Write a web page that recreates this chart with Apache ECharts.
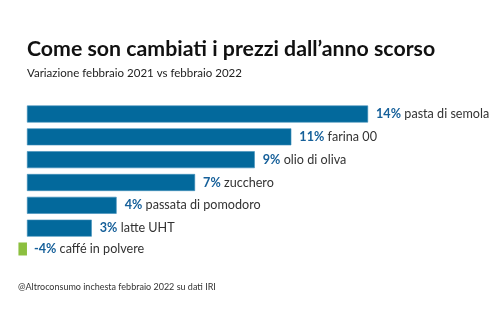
<!DOCTYPE html>
<html><head><meta charset="utf-8">
<script src="https://cdn.jsdelivr.net/npm/echarts@6/dist/echarts.min.js"></script>
<style>html,body{margin:0;padding:0;background:#fff}#c{width:500px;height:330px}</style>
</head><body><div id="c"></div>
<script>
const categories = ['pasta di semola','farina 00','olio di oliva','zucchero','passata di pomodoro','latte UHT','caffé in polvere'];
const percentLabels = ['14%','11%','9%','7%','4%','3%','-4%'];
// bar lengths as drawn in the picture (the negative bar is a short stub)
const barLengths = [14, 10.85, 9.35, 6.9, 3.68, 2.66, -0.35];
const positive = [true, true, true, true, true, true, false];

const chart = echarts.init(document.getElementById('c'));
const font = 'Lato, "Noto Sans", sans-serif';
const labelCfg = {
  show: true, position: 'right', distance: 8,
  formatter: p => '{v|' + percentLabels[p.dataIndex] + '} {n|' + categories[p.dataIndex] + '}',
  rich: {
    v: {fontFamily: font, fontSize: 12.6, fontWeight: 'bold', color: '#16609a'},
    n: {fontFamily: font, fontSize: 12.6, color: '#333'}
  }
};
chart.setOption({
  animation: false,
  title: [
    {text: 'Come son cambiati i prezzi dall\u2019anno scorso', left: 22, top: 34,
     textStyle: {fontFamily: font, fontSize: 21.3, fontWeight: 'bold', color: '#111'}},
    {text: 'Variazione febbraio 2021 vs febbraio 2022', left: 22, top: 62,
     textStyle: {fontFamily: font, fontSize: 11.5, fontWeight: 'normal', color: '#222'}},
    {text: '@Altroconsumo inchesta febbraio 2022 su dati IRI', left: 13, top: 278,
     textStyle: {fontFamily: font, fontSize: 9, fontWeight: 'normal', color: '#333'}}
  ],
  grid: {left: 2.6, right: 83.2, top: 100.6, bottom: 69.6, containLabel: false},
  xAxis: {type: 'value', min: -1, max: 16, show: false, splitLine: {show: false}},
  yAxis: {type: 'category', data: categories, inverse: true, show: false},
  series: [
    {type: 'bar', barWidth: 17, barGap: '-100%',
     data: barLengths.map((v, i) => positive[i] ? v : '-'),
     itemStyle: {color: '#03699c', borderColor: '#3f8fbb', borderWidth: 0.6},
     label: labelCfg},
    {type: 'bar', barWidth: 13, barGap: '-100%',
     data: barLengths.map((v, i) => positive[i] ? '-' : v),
     itemStyle: {color: '#8cbf3f'},
     label: Object.assign({}, labelCfg, {distance: 7})}
  ]
});
</script></body></html>
